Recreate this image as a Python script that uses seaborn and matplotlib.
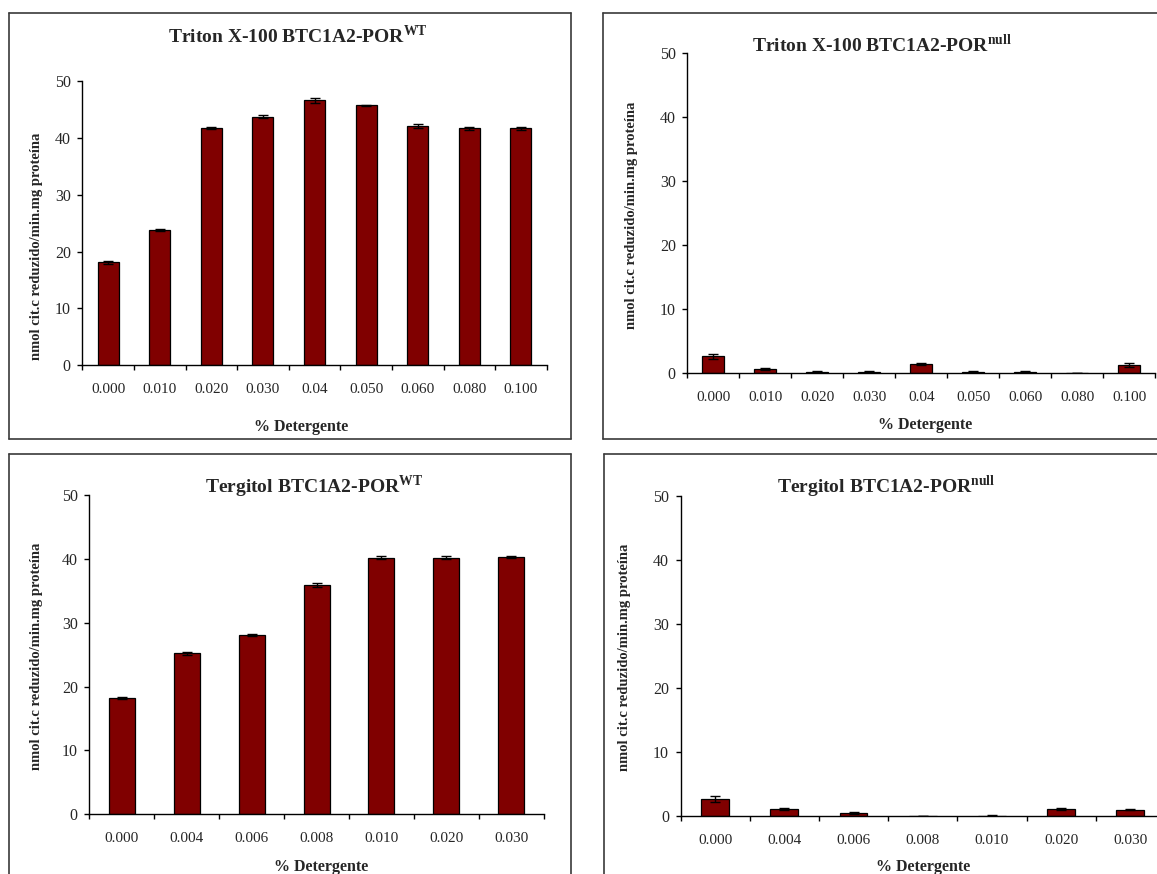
import numpy as np
import pandas as pd
import matplotlib
matplotlib.use("Agg")
import matplotlib.pyplot as plt
from matplotlib.lines import Line2D
import seaborn as sns

# ---- data -------------------------------------------------------------
triton_conc = ["0.000", "0.010", "0.020", "0.030", "0.04", "0.050", "0.060", "0.080", "0.100"]
triton_wt = [18.1, 23.8, 41.7, 43.7, 46.6, 45.7, 42.1, 41.7, 41.7]
triton_wt_err = [0.2, 0.25, 0.2, 0.25, 0.45, 0.15, 0.3, 0.25, 0.25]
triton_null = [2.65, 0.68, 0.25, 0.25, 1.45, 0.25, 0.25, 0.0, 1.25]
triton_null_err = [0.37, 0.1, 0.1, 0.1, 0.1, 0.1, 0.1, 0.0, 0.33]

tergitol_conc = ["0.000", "0.004", "0.006", "0.008", "0.010", "0.020", "0.030"]
tergitol_wt = [18.2, 25.2, 28.1, 35.9, 40.2, 40.2, 40.3]
tergitol_wt_err = [0.15, 0.25, 0.15, 0.3, 0.25, 0.25, 0.15]
tergitol_null = [2.6, 1.04, 0.47, 0.0, 0.05, 1.04, 0.99]
tergitol_null_err = [0.45, 0.15, 0.16, 0.0, 0.15, 0.15, 0.12]

y_ticks = [0, 10, 20, 30, 40, 50]
y_label = "nmol cit.c reduzido/min.mg proteína"
x_label = "% Detergente"

# ---- style ------------------------------------------------------------
sns.set_style("white")
plt.rcParams["font.family"] = ["Liberation Serif", "DejaVu Serif"]
plt.rcParams["mathtext.fontset"] = "custom"
plt.rcParams["mathtext.rm"] = "Liberation Serif"
plt.rcParams["mathtext.bf"] = "Liberation Serif:bold"

BAR = "#800000"
W, H = 1157, 874
fig = plt.figure(figsize=(W / 100, H / 100), dpi=100)
fig.patch.set_facecolor("white")


def fx(px):
    return px / W


def fy(py):
    return 1 - py / H


def frame(x0, y0, x1, y1):
    kw = dict(transform=fig.transFigure, color="#3a3a3a", lw=1.2, clip_on=False)
    fig.add_artist(Line2D([fx(x0), fx(x1)], [fy(y0), fy(y0)], **kw))
    fig.add_artist(Line2D([fx(x0), fx(x1)], [fy(y1), fy(y1)], **kw))
    fig.add_artist(Line2D([fx(x0), fx(x0)], [fy(y0), fy(y1)], **kw))
    fig.add_artist(Line2D([fx(x1), fx(x1)], [fy(y0), fy(y1)], **kw))


def panel(left, right, y0, y50, cats, vals, errs, width,
          title, title_xy, ylab_xy, xlab_xy):
    ax = fig.add_axes([fx(left), fy(y0), fx(right - left), (y0 - y50) / H])
    df = pd.DataFrame({"conc": cats, "rate": vals})
    sns.barplot(data=df, x="conc", y="rate", order=cats, color=BAR,
                saturation=1, width=width, edgecolor="black", linewidth=0.9,
                errorbar=None, ax=ax)
    n = len(cats)
    ax.errorbar(np.arange(n), vals, yerr=errs, fmt="none", ecolor="black",
                elinewidth=1.0, capsize=3.5, capthick=1.0, zorder=5)
    ax.set_xlim(-0.5, n - 0.5)
    ax.set_ylim(0, 50)
    ax.set_xlabel("")
    ax.set_ylabel("")
    ax.set_facecolor("none")
    for s in ("top", "right"):
        ax.spines[s].set_visible(False)
    for s in ("left", "bottom"):
        ax.spines[s].set_color("black")
        ax.spines[s].set_linewidth(1.0)
    ax.set_yticks(y_ticks)
    ax.set_yticklabels([str(t) for t in y_ticks], fontsize=11.5)
    ax.tick_params(axis="y", direction="out", length=3.3, width=1.0,
                   color="black", pad=5, left=True)
    ax.set_xticks(np.arange(n + 1) - 0.5)
    ax.set_xticklabels([""] * (n + 1))
    ax.set_xticks(np.arange(n), minor=True)
    ax.set_xticklabels(cats, minor=True, fontsize=11)
    ax.tick_params(axis="x", which="major", direction="out", length=3.8,
                   width=1.0, color="black", bottom=True)
    ax.tick_params(axis="x", which="minor", length=0, pad=13, bottom=True)
    fig.text(fx(title_xy[0]), fy(title_xy[1]), title, fontsize=14,
             fontweight="bold", ha="left", va="baseline")
    fig.text(fx(ylab_xy[0]), fy(ylab_xy[1]), y_label, fontsize=10.5,
             fontweight="bold", rotation=90, ha="center", va="center")
    fig.text(fx(xlab_xy[0]), fy(xlab_xy[1]), x_label, fontsize=11.5,
             fontweight="bold", ha="center", va="center")
    return ax


# chart borders
frame(9, 12.5, 571, 439)
frame(603, 12.5, 1166, 439)
frame(9, 454, 571, 900)
frame(604, 454, 1166, 900)

panel(82.3, 546.7, 365.3, 81.0, triton_conc, triton_wt, triton_wt_err, 0.41,
      r"Triton X-100 BTC1A2-POR$^{\mathbf{WT}}$", (168.5, 42.7),
      (37, 246), (301, 426.7))
panel(687.3, 687.3 + 9 * 52.0, 373.3, 52.7, triton_conc, triton_null,
      triton_null_err, 0.43,
      r"Triton X-100 BTC1A2-POR$^{\mathbf{null}}$", (752, 51.7),
      (631.6, 215), (925, 425))
panel(89.3, 543.8, 814.0, 495.3, tergitol_conc, tergitol_wt, tergitol_wt_err,
      0.40, r"Tergitol BTC1A2-POR$^{\mathbf{WT}}$", (204.6, 492.7),
      (37, 656.7), (321.5, 866.7))
panel(680.5, 680.5 + 7 * 69.2, 816.0, 495.7, tergitol_conc, tergitol_null,
      tergitol_null_err, 0.40, r"Tergitol BTC1A2-POR$^{\mathbf{null}}$",
      (776.7, 493.3), (624.6, 657.5), (923, 866.7))

fig.savefig("out.png", dpi=100, facecolor="white")
